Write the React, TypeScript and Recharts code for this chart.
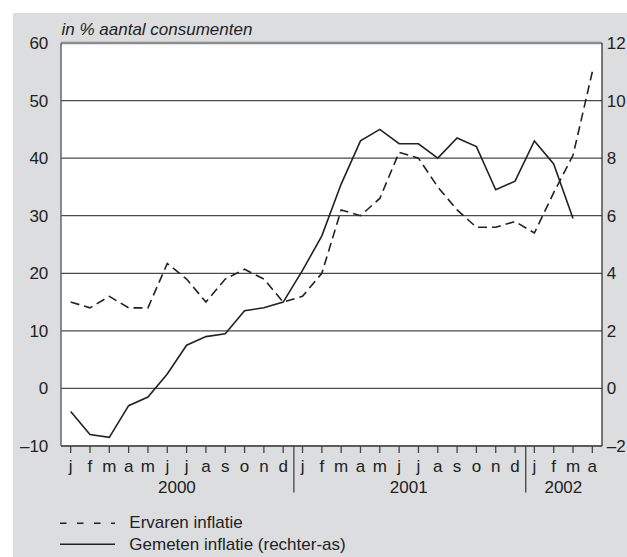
import React from 'react';
import { LineChart, Line, XAxis, YAxis, CartesianGrid, ReferenceLine, Legend } from 'recharts';

const monthLabels = ['j','f','m','a','m','j','j','a','s','o','n','d','j','f','m','a','m','j','j','a','s','o','n','d','j','f','m','a'];
const yearLabels = ['2000', '2001', '2002'];
const monthsPerYear = [12, 12, 4];

// Ervaren inflatie (left axis, % of consumers)
const ervaren = [15, 14, 16, 14, 14, 21.7, 19, 15, 19, 20.7, 19, 15, 16, 20, 31, 30, 33, 41, 40, 35, 31, 28, 28, 29, 27, 34, 40.5, 55];
// Gemeten inflatie (right axis)
const gemeten: (number | null)[] = [-0.8, -1.6, -1.7, -0.6, -0.3, 0.5, 1.5, 1.8, 1.9, 2.7, 2.8, 3.0, 4.1, 5.3, 7.1, 8.6, 9.0, 8.5, 8.5, 8.0, 8.7, 8.4, 6.9, 7.2, 8.6, 7.8, 5.9, null];

const leftTicks = [-10, 0, 10, 20, 30, 40, 50, 60];
const rightTicks = [-2, 0, 2, 4, 6, 8, 10, 12];

const seriesNames = ['Ervaren inflatie', 'Gemeten inflatie (rechter-as)'];
const axisTitle = 'in % aantal consumenten';

const data = monthLabels.map((m, i) => ({ key: 'k' + i, ervaren: ervaren[i], gemeten: gemeten[i] }));

const yearStarts: number[] = [];
{
  let s = 0;
  for (const n of monthsPerYear) { yearStarts.push(s); s += n; }
}

const W = 627;
const H = 557;
const PLOT_LEFT = 61;
const PLOT_RIGHT = 602;
const PLOT_TOP = 43;
const PLOT_BOTTOM = 446;
const PAD = (PLOT_RIGHT - PLOT_LEFT) / monthLabels.length / 2;
const STEP = (PLOT_RIGHT - PLOT_LEFT - 2 * PAD) / (monthLabels.length - 1);
const FONT = 'Liberation Sans, Arial, Helvetica, sans-serif';
const TXT = '#222';

const fmt = (v: number) => (v < 0 ? '\u2013' + Math.abs(v) : String(v));

const MonthTick = (props: any) => {
  const { x, payload } = props;
  const idx = payload.index;
  const els: any[] = [];
  els.push(
    <text key="m" x={x} y={PLOT_BOTTOM + 25.5} textAnchor="middle" fontSize={17} fontFamily={FONT} fill={TXT}>
      {monthLabels[idx]}
    </text>
  );
  yearStarts.forEach((s, yi) => {
    const e = s + monthsPerYear[yi] - 1;
    if (idx === s) {
      els.push(
        <text key={'y' + yi} x={x + ((e - s) * STEP) / 2} y={PLOT_BOTTOM + 46.7} textAnchor="middle" fontSize={17} fontFamily={FONT} fill={TXT}>
          {yearLabels[yi]}
        </text>
      );
    }
    if (idx === e && yi < yearStarts.length - 1) {
      els.push(
        <line key={'s' + yi} x1={x + STEP / 2 + 1} x2={x + STEP / 2 + 1} y1={PLOT_BOTTOM} y2={PLOT_BOTTOM + 46.5} stroke="#444" strokeWidth={1.3} />
      );
    }
  });
  return <g>{els}</g>;
};

const renderLegend = () => (
  <svg width={W} height={52} style={{ display: 'block' }}>
    <line x1={60} x2={115} y1={18.3} y2={18.3} stroke={TXT} strokeWidth={1.5} strokeDasharray="6.5 10.5" />
    <text x={129.3} y={23.3} fontSize={17} fontFamily={FONT} fill={TXT}>{seriesNames[0]}</text>
    <line x1={60} x2={115} y1={39.3} y2={39.3} stroke={TXT} strokeWidth={1.5} />
    <text x={129.3} y={45} fontSize={17} fontFamily={FONT} fill={TXT}>{seriesNames[1]}</text>
  </svg>
);

export default function App() {
  return (
    <div style={{ position: 'absolute', left: 0, top: 0, width: W, height: H, overflow: 'hidden' }}>
      <div style={{ position: 'absolute', left: 13, top: 13, width: W - 13, height: H - 13, background: '#dcdddf' }} />
      <div style={{ position: 'absolute', left: 0, top: 0 }}>
        <LineChart
          width={W}
          height={H}
          data={data}
          margin={{ top: PLOT_TOP, left: 13, right: 0, bottom: 61 }}
        >
          <CartesianGrid yAxisId="left" vertical={false} stroke="#4a4a4a" strokeWidth={1.3} fill="#ffffff" />
          <XAxis
            dataKey="key"
            height={50}
            interval={0}
            padding={{ left: PAD, right: PAD }}
            axisLine={false}
            tickSize={7}
            tickMargin={2}
            tickLine={{ stroke: '#444', strokeWidth: 1.3 }}
            tick={<MonthTick />}
          />
          <YAxis
            yAxisId="left"
            domain={[-10, 60]}
            ticks={leftTicks}
            width={48}
            tickSize={0}
            tickMargin={12.7}
            tickFormatter={fmt}
            axisLine={{ stroke: '#666', strokeWidth: 1.5 }}
            tick={{ fontSize: 17, fontFamily: FONT, fill: TXT }}
            interval={0}
            allowDataOverflow
          />
          <YAxis
            yAxisId="right"
            orientation="right"
            domain={[-2, 12]}
            ticks={rightTicks}
            width={25}
            tickSize={0}
            tickMargin={4.7}
            tickFormatter={fmt}
            axisLine={{ stroke: '#333', strokeWidth: 1.3 }}
            tick={{ fontSize: 17, fontFamily: FONT, fill: TXT, textAnchor: 'start' }}
            interval={0}
            allowDataOverflow
          />
          <ReferenceLine yAxisId="left" y={60} stroke="#8c8c8c" strokeWidth={2.5} />
          <ReferenceLine yAxisId="left" y={-10} stroke="#555" strokeWidth={1.5} />
          <Line
            yAxisId="left"
            type="linear"
            dataKey="ervaren"
            name={seriesNames[0]}
            stroke={TXT}
            strokeWidth={1.6}
            strokeDasharray="9 5"
            dot={false}
            isAnimationActive={false}
          />
          <Line
            yAxisId="right"
            type="linear"
            dataKey="gemeten"
            name={seriesNames[1]}
            stroke={TXT}
            strokeWidth={1.6}
            dot={false}
            isAnimationActive={false}
          />
          <Legend
            layout="horizontal"
            verticalAlign="middle"
            align="center"
            content={renderLegend}
            wrapperStyle={{ position: 'absolute', left: 0, top: 505, width: W, height: 52 }}
          />
        </LineChart>
        <svg width={W} height={40} style={{ position: 'absolute', left: 0, top: 0, pointerEvents: 'none' }}>
          <text x={61.5} y={34.7} fontSize={17} fontStyle="italic" fontFamily={FONT} fill={TXT}>{axisTitle}</text>
        </svg>
      </div>
    </div>
  );
}
